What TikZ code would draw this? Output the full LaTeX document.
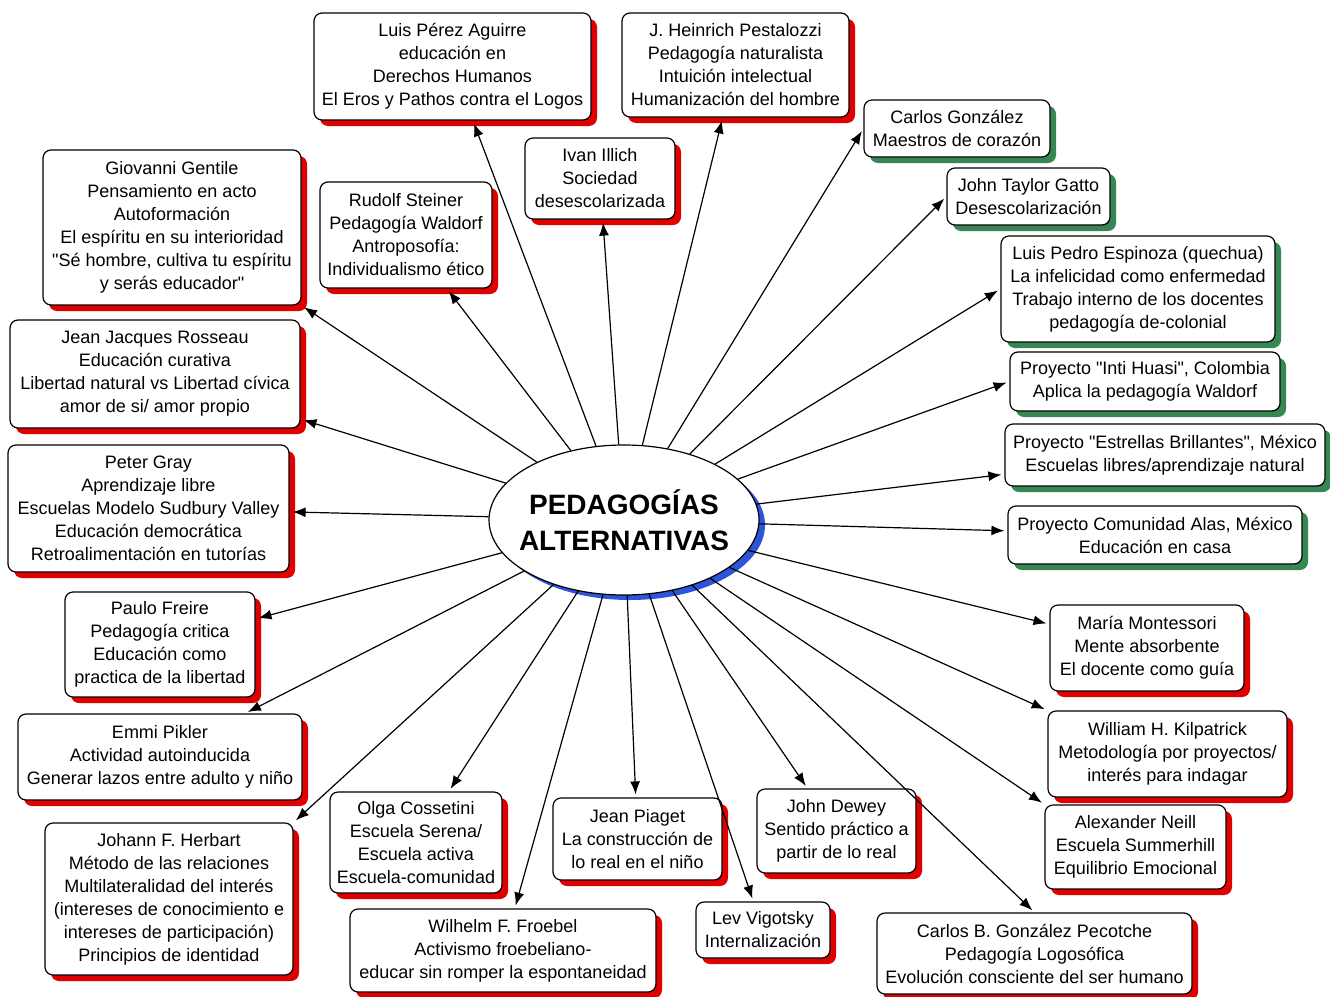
\documentclass[tikz,border=0pt]{standalone}
\usepackage{fontspec}
\setmainfont{Liberation Sans}
\usetikzlibrary{shapes.geometric,shadows,arrows.meta}
\definecolor{shred}{RGB}{225,0,0}
\definecolor{shgreen}{RGB}{55,135,85}
\definecolor{shblue}{RGB}{45,85,220}
\newcommand{\dq}{\textquotedbl}
\begin{document}
\begin{tikzpicture}[x=1pt,y=-1pt,
  box/.style={draw=black, line width=1.2pt, fill=white, rounded corners=8pt, align=center,
    inner sep=2pt, font=\fontsize{18}{23}\selectfont},
  redbox/.style={box, general shadow={fill=shred, shadow xshift=6pt, shadow yshift=-6pt}},
  greenbox/.style={box, general shadow={fill=shgreen, shadow xshift=6pt, shadow yshift=-6pt}},
  sz/.style 2 args={minimum width=#1pt, minimum height=#2pt},
  arr/.style={draw=black, line width=1.2pt, -{Latex[length=13pt,width=10pt]}, shorten >=3pt}
]
\useasboundingbox (0,0) rectangle (1330,996);
\fill[white] (0,0) rectangle (1330,996);

\node[ellipse, draw=black, line width=1.2pt, fill=white, minimum width=270pt, minimum height=150pt,
  inner sep=0pt, align=center, font=\fontsize{28}{36}\selectfont\bfseries,
  general shadow={fill=shblue, shadow xshift=6pt, shadow yshift=-5pt}]
  (ell) at (624,520) {\makebox[0pt][c]{PEDAGOGÍAS}\\\makebox[0pt][c]{ALTERNATIVAS}};

\node[redbox, sz={277}{107}] (lpa) at (452.5,66.5) {Luis Pérez Aguirre\\educación en\\Derechos Humanos\\El Eros y Pathos contra el Logos};
\node[redbox, sz={227}{104}] (jhp) at (735.5,65) {J. Heinrich Pestalozzi\\Pedagogía naturalista\\Intuición intelectual\\Humanización del hombre};
\node[greenbox, sz={186}{57}] (cg) at (957,128.5) {Carlos González\\Maestros de corazón};
\node[greenbox, sz={163}{57}] (jtg) at (1028.5,196.5) {John Taylor Gatto\\Desescolarización};
\node[greenbox, sz={274}{106}] (lpe) at (1138,289) {Luis Pedro Espinoza (quechua)\\La infelicidad como enfermedad\\Trabajo interno de los docentes\\pedagogía de-colonial};
\node[greenbox, sz={270}{59}] (inti) at (1145,381.5) {Proyecto \dq Inti Huasi\dq, Colombia\\Aplica la pedagogía Waldorf};
\node[greenbox, sz={320}{62}] (est) at (1165,455) {Proyecto \dq Estrellas Brillantes\dq, México\\Escuelas libres/aprendizaje natural};
\node[greenbox, sz={294}{58}] (alas) at (1155,535) {Proyecto Comunidad Alas, México\\Educación en casa};
\node[redbox, sz={194}{86}] (mm) at (1147,648) {María Montessori\\Mente absorbente\\El docente como guía};
\node[redbox, sz={239}{86}] (wk) at (1167.5,754) {William H. Kilpatrick\\Metodología por proyectos/\\interés para indagar};
\node[redbox, sz={181}{84}] (an) at (1135.5,847) {Alexander Neill\\Escuela Summerhill\\Equilibrio Emocional};
\node[redbox, sz={315}{81}] (cbg) at (1034.5,953.5) {Carlos B. González Pecotche\\Pedagogía Logosófica\\Evolución consciente del ser humano};
\node[redbox, sz={134}{56}] (lv) at (763,930) {Lev Vigotsky\\Internalización};
\node[redbox, sz={159}{84}] (jd) at (836.5,831) {John Dewey\\Sentido práctico a\\partir de lo real};
\node[redbox, sz={169}{82}] (jp) at (637.5,839) {Jean Piaget\\La construcción de\\lo real en el niño};
\node[redbox, sz={306}{83}] (wf) at (503,950.5) {Wilhelm F. Froebel\\Activismo froebeliano-\\educar sin romper la espontaneidad};
\node[redbox, sz={172}{101}] (oc) at (416,842.5) {Olga Cossetini\\Escuela Serena/\\Escuela activa\\Escuela-comunidad};
\node[redbox, sz={248}{152}] (jfh) at (169,899) {Johann F. Herbart\\Método de las relaciones\\Multilateralidad del interés\\(intereses de conocimiento e\\intereses de participación)\\Principios de identidad};
\node[redbox, sz={284}{86}] (ep) at (160,757) {Emmi Pikler\\Actividad autoinducida\\Generar lazos entre adulto y niño};
\node[redbox, sz={190}{105}] (pf) at (160,644.5) {Paulo Freire\\Pedagogía critica\\Educación como\\practica de la libertad};
\node[redbox, sz={281}{127}] (pg) at (148.5,508.5) {Peter Gray\\Aprendizaje libre\\Escuelas Modelo Sudbury Valley\\Educación democrática\\Retroalimentación en tutorías};
\node[redbox, sz={290}{108}] (jjr) at (155,374) {Jean Jacques Rosseau\\Educación curativa\\Libertad natural vs Libertad cívica\\amor de si/ amor propio};
\node[redbox, sz={258}{155}] (gg) at (172,227.5) {Giovanni Gentile\\Pensamiento en acto\\Autoformación\\El espíritu en su interioridad\\\dq Sé hombre, cultiva tu espíritu\\y serás educador\dq};
\node[redbox, sz={172}{106}] (rs) at (406,235) {Rudolf Steiner\\Pedagogía Waldorf\\Antroposofía:\\Individualismo ético};
\node[redbox, sz={150}{81}] (ii) at (600,178.5) {Ivan Illich\\Sociedad\\desescolarizada};

\draw[arr] (ell) -- (lpa);
\draw[arr] (ell) -- (jhp);
\draw[arr] (ell) -- (cg.west);
\draw[arr] (ell) -- (jtg.west);
\draw[arr] (ell) -- (lpe.west);
\draw[arr] (ell) -- (inti.west);
\draw[arr] (ell) -- (est);
\draw[arr] (ell) -- (alas);
\draw[arr] (ell) -- (mm);
\draw[arr] (ell) -- (wk.north west);
\draw[arr] (ell) -- (an.north west);
\draw[arr] (ell) -- (cbg.north);
\draw[arr] (ell) -- (lv);
\draw[arr] (ell) -- (jd);
\draw[arr] (ell) -- (jp);
\draw[arr] (ell) -- (wf);
\draw[arr] (ell) -- (oc);
\draw[arr] (ell) -- (jfh.north east);
\draw[arr] (ell) -- (ep);
\draw[arr] (ell) -- (pf);
\draw[arr] (ell) -- (pg);
\draw[arr] (ell) -- (jjr);
\draw[arr] (ell) -- (gg.south east);
\draw[arr] (ell) -- (rs);
\draw[arr] (ell) -- (ii);
\end{tikzpicture}
\end{document}
